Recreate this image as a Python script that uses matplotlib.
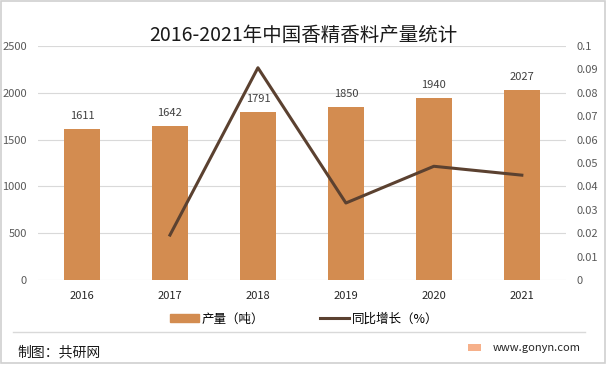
import matplotlib.pyplot as plt
import matplotlib.patches as mpatches
from matplotlib.lines import Line2D
import numpy as np

plt.rcParams['font.family'] = ['Noto Sans CJK SC', 'DejaVu Sans']

years = ["2016", "2017", "2018", "2019", "2020", "2021"]
output_t = [1611, 1642, 1791, 1850, 1940, 2027]
growth = [None, 0.0192, 0.0907, 0.0329, 0.0486, 0.0448]

BAR_COLOR = "#D38C50"
LINE_COLOR = "#5B4130"
GRID_COLOR = "#D9D9D9"
TICK_COLOR = "#595959"

fig = plt.figure(figsize=(6.06, 3.77), dpi=100)
fig.patch.set_facecolor("white")
# outer frame (ends above the bottom edge like the source image)
fig.patches.append(mpatches.Rectangle((0.0016, 0.037), 0.996, 0.961, transform=fig.transFigure,
                                      fill=False, edgecolor="#D0D0D0", linewidth=1.2))

ax = fig.add_axes([0.0627, 0.2573, 0.871, 0.6207])
x = np.arange(len(years))
ax.bar(x, output_t, width=0.41, color=BAR_COLOR, zorder=2)
for xi, v in zip(x, output_t):
    ax.annotate(str(v), (xi, v), xytext=(0, 6), textcoords="offset points",
                ha="center", va="bottom", fontsize=8, color="#404040")

ax.set_ylim(0, 2500)
ax.set_yticks(np.arange(0, 2501, 500))
ax.set_xlim(-0.5, len(years) - 0.5)
ax.set_xticks(x)
ax.set_xticklabels(years, fontsize=8, color="#262626")
ax.tick_params(axis="y", labelsize=8, labelcolor=TICK_COLOR, length=0, pad=8)
ax.tick_params(axis="x", length=0, pad=8)
ax.grid(axis="y", color=GRID_COLOR, linewidth=0.8, zorder=0)
for s in ax.spines.values():
    s.set_visible(False)

ax2 = ax.twinx()
gx = [xi for xi, g in zip(x, growth) if g is not None]
gy = [g for g in growth if g is not None]
ax2.plot(gx, gy, color=LINE_COLOR, linewidth=2.2, zorder=3)
ax2.set_ylim(0, 0.1)
ax2.set_yticks(np.arange(0, 0.1001, 0.01))
ax2.set_yticklabels(["0", "0.01", "0.02", "0.03", "0.04", "0.05", "0.06", "0.07", "0.08", "0.09", "0.1"])
ax2.tick_params(axis="y", labelsize=8, labelcolor=TICK_COLOR, length=0, pad=8)
for s in ax2.spines.values():
    s.set_visible(False)

fig.text(0.5, 0.907, "2016-2021年中国香精香料产量统计", ha="center", va="center", fontsize=14, color="#1a1a1a")

handles = [mpatches.Patch(color=BAR_COLOR), Line2D([0], [0], color=LINE_COLOR, linewidth=2.2)]
fig.legend(handles, ["产量（吨）", "同比增长（%）"], loc="center", bbox_to_anchor=(0.502, 0.154),
           ncol=2, frameon=False, fontsize=9, handlelength=2.3, handleheight=0.7,
           columnspacing=4.5, handletextpad=0.2)

fig.add_artist(Line2D([0.021, 0.966], [0.119, 0.119], transform=fig.transFigure,
                      color="#D9D9D9", linewidth=1))
fig.text(0.028, 0.066, "制图：共研网", ha="left", va="center", fontsize=10, color="#1a1a1a")
fig.text(0.959, 0.077, "www.gonyn.com", ha="right", va="center", fontsize=8, color="#262626")
fig.patches.append(mpatches.Rectangle((0.772, 0.068), 0.022, 0.02, transform=fig.transFigure,
                                      facecolor="#F6B08A", edgecolor="none"))

fig.savefig("out.png", dpi=100)
